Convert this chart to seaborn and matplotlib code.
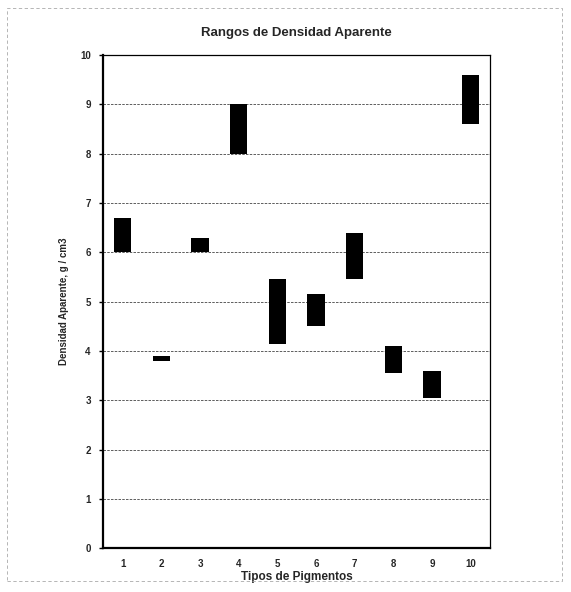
import matplotlib
matplotlib.use("Agg")
import matplotlib.pyplot as plt
import seaborn as sns
import pandas as pd
import numpy as np
from matplotlib.patches import Rectangle

categories = ["1", "2", "3", "4", "5", "6", "7", "8", "9", "10"]
low = [6.0, 3.8, 6.0, 8.0, 4.15, 4.5, 5.45, 3.55, 3.05, 8.6]
high = [6.7, 3.9, 6.3, 9.0, 5.45, 5.15, 6.4, 4.1, 3.6, 9.6]

df = pd.DataFrame({"tipo": categories, "low": low, "high": high})
df["rango"] = df["high"] - df["low"]

sns.set_theme(style="white")
plt.rcParams["font.family"] = ["Liberation Sans", "DejaVu Sans"]

fig = plt.figure(figsize=(5.71, 5.92), dpi=100)
ax = fig.add_axes([0.181, 0.074, 0.677, 0.833])

sns.barplot(data=df, x="tipo", y="rango", order=categories, color="black",
            width=0.45, ax=ax, bottom=df["low"].values, edgecolor="black", linewidth=0)

ax.set_ylim(0, 10)
ax.set_xlim(-0.5, len(categories) - 0.5)
ax.set_yticks(range(0, 11))
ax.set_yticklabels([str(i) for i in range(0, 11)], fontsize=7, fontweight="bold")
for y in range(1, 10):
    ax.axhline(y, color="#444444", linestyle=(0, (3, 1.5)), linewidth=0.6, zorder=0)

# tick marks at category boundaries, labels at centers
ax.set_xticks(np.arange(len(categories)), labels=categories, fontsize=7, fontweight="bold")
ax.tick_params(axis="x", length=0, pad=8)
ax.set_xticks(np.arange(-0.5, len(categories), 1.0), minor=True)
ax.tick_params(axis="x", which="minor", length=3, width=1, direction="out", color="black")
ax.tick_params(axis="y", length=3, width=1, direction="out", color="black", pad=6, left=True)

for side in ["left", "bottom"]:
    ax.spines[side].set_color("black")
    ax.spines[side].set_linewidth(1.6)
for side in ["top", "right"]:
    ax.spines[side].set_color("black")
    ax.spines[side].set_linewidth(0.9)

ax.set_xlabel("Tipos de Pigmentos", fontsize=8.5, fontweight="bold", labelpad=1)
ax.set_ylabel("Densidad Aparente, g / cm3", fontsize=7, fontweight="bold", labelpad=8)
ax.set_title("Rangos de Densidad Aparente", fontsize=9.5, fontweight="bold", pad=14)

fig.patches.append(Rectangle((0.012, 0.018), 0.972, 0.968, transform=fig.transFigure,
                             fill=False, edgecolor="#aaaaaa", linestyle=(0, (4, 3)), linewidth=0.6))

fig.savefig("out.png", dpi=100)
